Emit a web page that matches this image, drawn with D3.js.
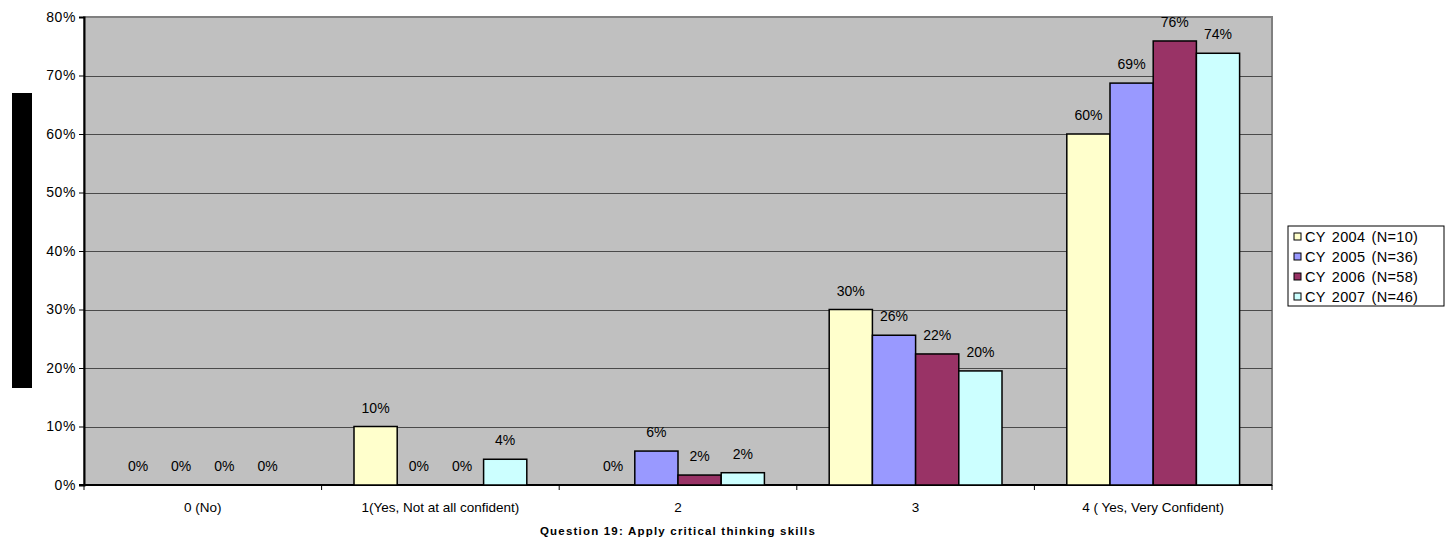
<!DOCTYPE html>
<html>
<head>
<meta charset="utf-8">
<script src="https://cdn.jsdelivr.net/npm/d3@7"></script>
<style>
  body { margin: 0; background: #fff; }
  text { font-family: "Liberation Sans", Arial, sans-serif; fill: #000; }
</style>
</head>
<body>
<svg id="chart" width="1450" height="548"></svg>
<script>
// categories on the x axis
const categories = ["0 (No)", "1(Yes, Not at all confident)", "2", "3", "4 ( Yes, Very Confident)"];
// series (percent values)
const seriesNames = ["CY 2004 (N=10)", "CY 2005 (N=36)", "CY 2006 (N=58)", "CY 2007 (N=46)"];
const cy2004 = [0, 10, 0, 30, 60];
const cy2005 = [0, 0, 5.8, 25.6, 68.7];
const cy2006 = [0, 0, 1.7, 22.4, 75.9];
const cy2007 = [0, 4.4, 2.1, 19.5, 73.8];
const yTicks = [0, 10, 20, 30, 40, 50, 60, 70, 80];
const colors = ["#FFFFCC", "#9999FF", "#993366", "#CCFFFF"];
const xTitle = "Question 19: Apply critical thinking skills";

const series = [cy2004, cy2005, cy2006, cy2007];

var margin = {top: 17, left: 84, right: 178, bottom: 63};
var width = 1450, height = 548;
var w = width - margin.left - margin.right;   // 1188
var h = height - margin.top - margin.bottom;  // 468

var svg = d3.select("#chart");
var g = svg.append("g")
    .attr("transform", "translate(" + margin.left + "," + margin.top + ")");

var x0 = d3.scaleBand().domain(categories).range([0, w]).paddingInner(0).paddingOuter(0);
// excel gap width 150% -> bar width = band / 5.5
var barW = x0.bandwidth() / 5.5;
var x1 = d3.scaleBand().domain(d3.range(series.length))
    .range([barW * 0.75, barW * 0.75 + barW * 4]);
var y = d3.scaleLinear().domain([0, 80]).range([h, 0]);

// plot background
g.append("rect")
    .attr("width", w).attr("height", h)
    .attr("fill", "#C0C0C0")
    .attr("stroke", "#808080").attr("stroke-width", 2);

// gridlines
g.append("g").selectAll("line")
    .data(yTicks.filter(d => d > 0 && d < 80))
  .enter().append("line")
    .attr("x1", 0).attr("x2", w)
    .attr("y1", d => Math.round(y(d)) + 0.5).attr("y2", d => Math.round(y(d)) + 0.5)
    .attr("stroke", "#4a4a4a").attr("stroke-width", 1);

// y axis
var yAxis = g.append("g")
    .call(d3.axisLeft(y).tickValues(yTicks).tickSize(5).tickPadding(3)
      .tickFormat(d => d + "%"));
yAxis.select(".domain").attr("stroke", "#000").attr("stroke-width", 2);
yAxis.selectAll(".tick line").attr("stroke", "#000");
yAxis.selectAll("text").style("font-size", "14px").style("letter-spacing", "0.6px").attr("fill", "#000");

// x axis (ticks between categories)
var xAxisG = g.append("g").attr("transform", "translate(0," + h + ")");
xAxisG.append("line").attr("x1", -5).attr("x2", w)
    .attr("stroke", "#000").attr("stroke-width", 2);
xAxisG.selectAll(".xt").data(categories.concat(["end"]))
  .enter().append("line")
    .attr("class", "xt")
    .attr("x1", (d, i) => i * x0.step()).attr("x2", (d, i) => i * x0.step())
    .attr("y1", 0).attr("y2", 5)
    .attr("stroke", "#000");
xAxisG.selectAll(".xl").data(categories)
  .enter().append("text")
    .attr("class", "xl")
    .attr("x", d => x0(d) + x0.bandwidth() / 2)
    .attr("y", 27)
    .attr("text-anchor", "middle")
    .style("font-size", "13.5px")
    .text(d => d);

// bars
var groups = g.append("g").selectAll("g")
    .data(categories)
  .enter().append("g")
    .attr("transform", d => "translate(" + x0(d) + ",0)");

var cells = groups.selectAll("g")
    .data((c, ci) => series.map((s, si) => ({si: si, v: s[ci]})))
  .enter().append("g");

cells.filter(d => d.v > 0).append("rect")
    .attr("x", d => x1(d.si))
    .attr("y", d => y(d.v))
    .attr("width", x1.bandwidth())
    .attr("height", d => h - y(d.v))
    .attr("fill", d => colors[d.si])
    .attr("stroke", "#000").attr("stroke-width", 1.5);

cells.append("text")
    .attr("x", d => x1(d.si) + x1.bandwidth() / 2)
    .attr("y", d => y(d.v) - 14)
    .attr("text-anchor", "middle")
    .style("font-size", "14px")
    .text(d => Math.round(d.v) + "%");

// x title
svg.append("text")
    .attr("x", margin.left + w / 2)
    .attr("y", 535)
    .attr("text-anchor", "middle")
    .style("font-size", "11.5px").style("font-weight", "bold")
    .style("letter-spacing", "1.2px")
    .text(xTitle);

// redacted y title block
svg.append("rect")
    .attr("x", 12).attr("y", 93).attr("width", 20).attr("height", 295)
    .attr("fill", "#000");

// legend
var lg = svg.append("g").attr("transform", "translate(1288,226)");
lg.append("rect").attr("width", 156).attr("height", 80)
    .attr("fill", "#fff").attr("stroke", "#000");
var item = lg.selectAll(".li").data(seriesNames)
  .enter().append("g")
    .attr("class", "li")
    .attr("transform", (d, i) => "translate(6," + (11 + i * 20) + ")");
item.append("rect")
    .attr("x", 0).attr("y", -4).attr("width", 7).attr("height", 7)
    .attr("fill", (d, i) => colors[i]).attr("stroke", "#000");
item.append("text")
    .attr("x", 11).attr("y", 5)
    .style("font-size", "14.5px")
    .style("letter-spacing", "0.3px")
    .style("word-spacing", "2px")
    .text(d => d);
</script>
</body>
</html>
